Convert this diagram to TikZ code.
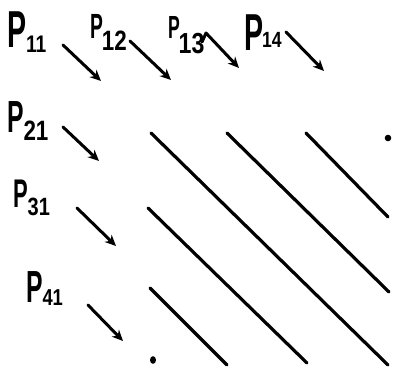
\documentclass[tikz,border=0pt]{standalone}
\usepackage{fontspec}
\usepackage{graphicx}
\setmainfont{Liberation Sans}
\usetikzlibrary{arrows.meta}
% #1 P size, #2 digits, #3 digit size, #4 lowering of digits, #5 kern
\newcommand{\plab}[5]{\bfseries\scalebox{0.55}[1]{\fontsize{#1}{#1}\selectfont P}\kern#5pt\raisebox{-#4pt}{\scalebox{0.8}[1]{\fontsize{#3}{#3}\selectfont #2}}}
\tikzset{
  lbl/.style={anchor=base west, inner sep=0pt, outer sep=0pt},
  arr/.style={line width=3pt, line cap=round, line join=round, -{Stealth[length=11pt,width=10pt]}},
  diag/.style={line width=3.2pt, line cap=round},
  dotmark/.style={fill=black}
}
\begin{document}
\begin{tikzpicture}[x=1pt,y=-1pt]
\useasboundingbox (0,0) rectangle (393,367);
% labels
\node[lbl] (p11) at (8,47)  {\plab{52}{11}{24}{5}{-1}};
\node[lbl] (p12) at (90,38) {\plab{35}{12}{28}{12}{-1}};
\node[lbl] (p13) at (168,38) {\plab{32}{13}{29}{15}{-1}};
\node[lbl] (p14) at (244,50) {\plab{52}{14}{22}{-3}{-1}};
\node[lbl] (p21) at (8,132) {\plab{45}{21}{28}{8}{-1}};
\node[lbl] (p31) at (13,207) {\plab{40}{31}{25}{8}{0}};
\node[lbl] (p41) at (26,302) {\plab{45}{41}{23}{3}{0}};
% arrow end points
\coordinate (s11) at (63,45);   \coordinate (e11) at (101,81);
\coordinate (s12) at (130,41);  \coordinate (e12) at (171,80);
\coordinate (h13) at (202,42);  \coordinate (s13) at (206,33); \coordinate (e13) at (239,68);
\coordinate (s14) at (286,32);  \coordinate (e14) at (324,71);
\coordinate (s21) at (63,127);  \coordinate (e21) at (99,161);
\coordinate (s31) at (77,208);  \coordinate (e31) at (116,246);
\coordinate (s41) at (88,305);  \coordinate (e41) at (123,341);
\draw[arr] (s11) -- (e11);
\draw[arr] (s12) -- (e12);
\draw[arr] (h13) -- (s13) -- (e13);
\draw[arr] (s14) -- (e14);
\draw[arr] (s21) -- (e21);
\draw[arr] (s31) -- (e31);
\draw[arr] (s41) -- (e41);
% diagonals
\coordinate (a1) at (151,133); \coordinate (a2) at (388,365);
\coordinate (b1) at (227,133); \coordinate (b2) at (389,292);
\coordinate (c1) at (306,133); \coordinate (c2) at (388,217);
\coordinate (d1) at (148,208); \coordinate (d2) at (307,363);
\coordinate (f1) at (150,288); \coordinate (f2) at (227,365);
\draw[diag] (a1) -- (a2);
\draw[diag] (b1) -- (b2);
\draw[diag] (c1) -- (c2);
\draw[diag] (d1) -- (d2);
\draw[diag] (f1) -- (f2);
% dots
\fill[dotmark] (388,138) circle[radius=3.3pt];
\fill[dotmark] (153,360) ellipse[x radius=3pt, y radius=3.8pt];
\end{tikzpicture}
\end{document}
